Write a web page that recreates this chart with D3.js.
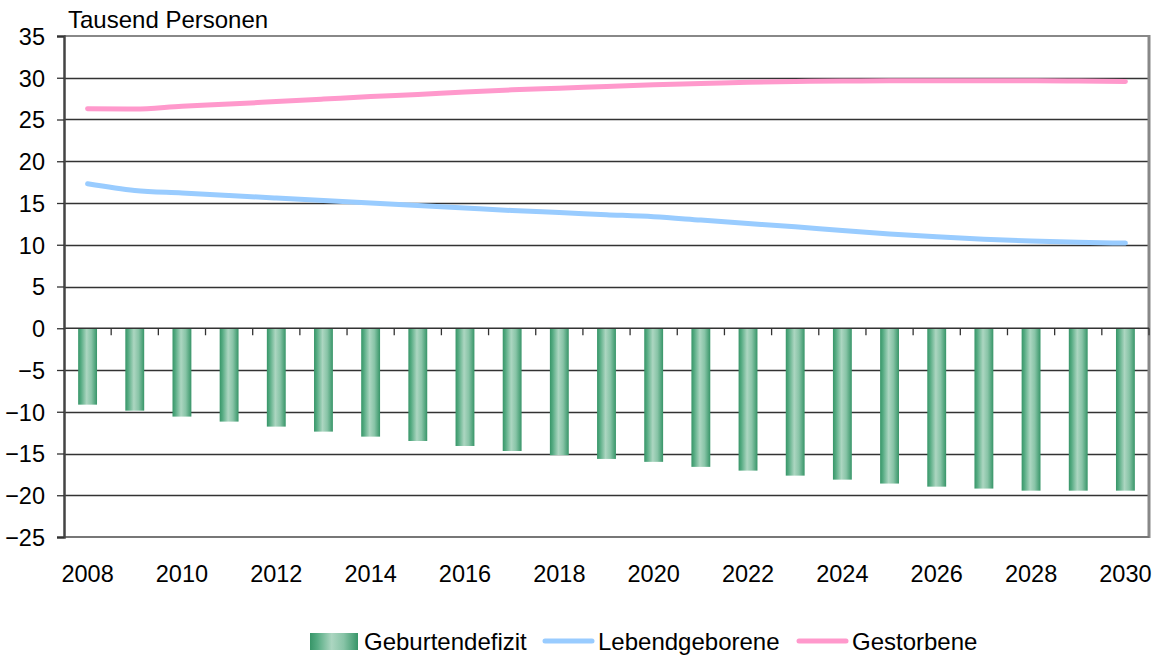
<!DOCTYPE html>
<html>
<head>
<meta charset="utf-8">
<script src="https://cdn.jsdelivr.net/npm/d3@7"></script>
<style>
  html, body { margin: 0; padding: 0; background: #fff; }
  svg { display: block; font-family: "Liberation Sans", Arial, sans-serif; }
</style>
</head>
<body>
<svg id="chart" width="1161" height="656"></svg>
<script>
const years = ["2008","2009","2010","2011","2012","2013","2014","2015","2016","2017","2018","2019","2020","2021","2022","2023","2024","2025","2026","2027","2028","2029","2030"];
const geburtendefizit = [-9.15,-9.87,-10.58,-11.18,-11.78,-12.38,-12.98,-13.5,-14.1,-14.7,-15.2,-15.65,-16.0,-16.6,-17.05,-17.65,-18.13,-18.6,-18.97,-19.2,-19.45,-19.45,-19.45];
const lebendgeborene = [17.3,16.5,16.2,15.9,15.6,15.3,15.0,14.7,14.4,14.1,13.85,13.6,13.35,12.95,12.55,12.15,11.7,11.3,10.95,10.65,10.45,10.3,10.2];
const gestorbene = [26.3,26.25,26.6,26.85,27.15,27.45,27.75,28.0,28.3,28.55,28.75,28.95,29.15,29.3,29.45,29.55,29.6,29.65,29.65,29.65,29.65,29.6,29.55];
const yTicks = [35,30,25,20,15,10,5,0,-5,-10,-15,-20,-25];
const xLabelYears = ["2008","2010","2012","2014","2016","2018","2020","2022","2024","2026","2028","2030"];
const yTitle = "Tausend Personen";
const seriesNames = ["Geburtendefizit","Lebendgeborene","Gestorbene"];

const svg = d3.select("#chart");
const L = 64, R = 1149, T = 36, B = 537;
const textSize = 24, numSize = 23.5;

const x = d3.scaleBand().domain(years).range([L, R]).paddingInner(0.6).paddingOuter(0.3);
const xc = d => x(d) + x.bandwidth() / 2;
const y = d3.scaleLinear().domain([-25, 35]).range([B, T]);

// gradient for bars
const defs = svg.append("defs");
const grad = defs.append("linearGradient").attr("id", "barGrad").attr("x1", "0%").attr("x2", "100%").attr("y1", "0%").attr("y2", "0%");
grad.append("stop").attr("offset", "0%").attr("stop-color", "#379568");
grad.append("stop").attr("offset", "15%").attr("stop-color", "#55ab82");
grad.append("stop").attr("offset", "45%").attr("stop-color", "#acd6c1");
grad.append("stop").attr("offset", "70%").attr("stop-color", "#88c4a7");
grad.append("stop").attr("offset", "100%").attr("stop-color", "#379568");

// gridlines
svg.append("g").selectAll("line").data(yTicks.filter(v => v !== 35 && v !== -25 && v !== 0))
  .join("line")
  .attr("x1", L).attr("x2", R)
  .attr("y1", d => Math.round(y(d)) + 0.5).attr("y2", d => Math.round(y(d)) + 0.5)
  .attr("stroke", "#333").attr("stroke-width", 1.3);

// bars
svg.append("g").selectAll("rect").data(years.map((yr, i) => ({yr, v: geburtendefizit[i]})))
  .join("rect")
  .attr("x", d => x(d.yr))
  .attr("width", x.bandwidth())
  .attr("y", y(0))
  .attr("height", d => y(d.v) - y(0))
  .attr("fill", "url(#barGrad)");

// top border & right border & bottom
svg.append("line").attr("x1", L).attr("x2", R + 1).attr("y1", T).attr("y2", T).attr("stroke", "#888").attr("stroke-width", 2);
svg.append("line").attr("x1", R).attr("x2", R).attr("y1", T - 1).attr("y2", B + 1).attr("stroke", "#888").attr("stroke-width", 3);
svg.append("line").attr("x1", L).attr("x2", R).attr("y1", B).attr("y2", B).attr("stroke", "#777").attr("stroke-width", 2);

// zero axis with category ticks
const zeroG = svg.append("g").attr("transform", `translate(0,${y(0)})`);
zeroG.append("line").attr("x1", L).attr("x2", R).attr("y1", 0).attr("y2", 0).attr("stroke", "#333").attr("stroke-width", 1.5);
zeroG.selectAll("line.tk").data(d3.range(1, years.length + 1))
  .join("line").attr("class", "tk")
  .attr("x1", i => x(years[i - 1]) + x.bandwidth() / 2 + x.step() / 2)
  .attr("x2", i => x(years[i - 1]) + x.bandwidth() / 2 + x.step() / 2)
  .attr("y1", 0).attr("y2", 7)
  .attr("stroke", "#333").attr("stroke-width", 1.3);

// x labels
const xLab = d3.axisBottom(x).tickValues(xLabelYears).tickSize(0).tickPadding(0);
const xg = svg.append("g").attr("transform", `translate(0,${B})`).call(xLab);
xg.select(".domain").remove();
xg.selectAll("text").attr("font-size", numSize).attr("fill", "#000").attr("font-family", "Liberation Sans, Arial, sans-serif").attr("dy", null).attr("y", 45);

// y axis
const yAxis = d3.axisLeft(y).tickValues(yTicks).tickSize(7).tickPadding(12).tickFormat(d3.format("d"));
const yg = svg.append("g").attr("transform", `translate(${L},0)`).call(yAxis);
yg.select(".domain").attr("stroke", "#444").attr("stroke-width", 2.5);
yg.selectAll(".tick line").attr("stroke", "#333").attr("stroke-width", 1.3);
yg.selectAll("text").attr("font-size", numSize).attr("fill", "#000").attr("font-family", "Liberation Sans, Arial, sans-serif").attr("dy", "0.36em");

// lines
const line = d3.line().x((d, i) => xc(years[i])).y(d => y(d)).curve(d3.curveMonotoneX);
svg.append("path").datum(lebendgeborene).attr("d", line).attr("fill", "none").attr("stroke", "#99ccff").attr("stroke-width", 5).attr("stroke-linecap", "round");
svg.append("path").datum(gestorbene).attr("d", line).attr("fill", "none").attr("stroke", "#ff99cc").attr("stroke-width", 5).attr("stroke-linecap", "round");

// y title
svg.append("text").attr("x", 68).attr("y", 28).attr("font-size", textSize).attr("fill", "#000").text(yTitle);

// legend
const lg = svg.append("g");
lg.append("rect").attr("x", 310).attr("y", 633).attr("width", 48).attr("height", 17).attr("fill", "url(#barGrad)");
lg.append("text").attr("x", 364).attr("y", 650).attr("font-size", textSize).text(seriesNames[0]);
lg.append("line").attr("x1", 545).attr("x2", 592).attr("y1", 641).attr("y2", 641).attr("stroke", "#99ccff").attr("stroke-width", 5).attr("stroke-linecap", "round");
lg.append("text").attr("x", 598).attr("y", 650).attr("font-size", textSize).text(seriesNames[1]);
lg.append("line").attr("x1", 799).attr("x2", 846).attr("y1", 641).attr("y2", 641).attr("stroke", "#ff99cc").attr("stroke-width", 5).attr("stroke-linecap", "round");
lg.append("text").attr("x", 852).attr("y", 650).attr("font-size", textSize).text(seriesNames[2]);
</script>
</body>
</html>
